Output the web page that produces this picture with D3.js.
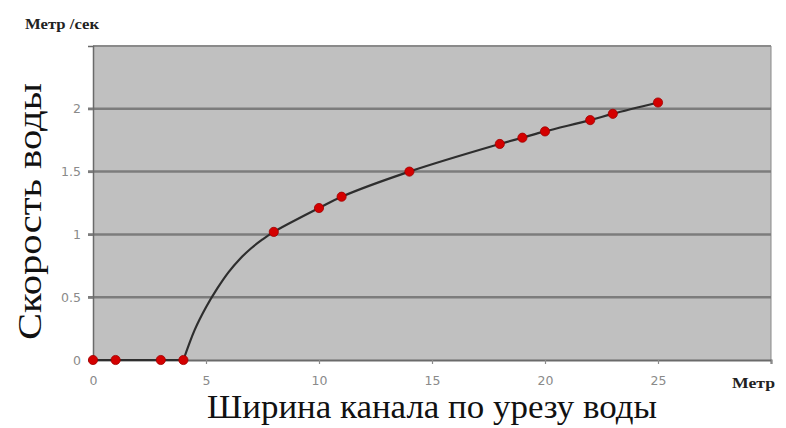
<!DOCTYPE html>
<html><head><meta charset="utf-8">
<script src="https://cdn.jsdelivr.net/npm/d3@7"></script>
<style>body{margin:0;background:#fff}svg{display:block}</style>
</head><body>
<svg id="c" width="786" height="428"></svg>
<script>
// Marker data
const widths = [0, 1, 3, 4, 8, 10, 11, 14, 18, 19, 20, 22, 23, 25];
const speeds = [0, 0, 0, 0, 1.02, 1.21, 1.30, 1.50, 1.72, 1.77, 1.82, 1.91, 1.96, 2.05];
// Smoothed line: flat part and rising part
const flatX = [0, 1, 3, 4];
const flatY = [0, 0, 0, 0];
const riseX = [4, 4.5, 5, 5.5, 6, 6.5, 7, 7.5, 8, 10, 11, 14, 18, 19, 20, 22, 23, 25];
const riseY = [0, 0.24, 0.42, 0.57, 0.70, 0.805, 0.89, 0.96, 1.02, 1.21, 1.30, 1.50, 1.72, 1.77, 1.82, 1.91, 1.96, 2.05];
const xTicks = [0, 5, 10, 15, 20, 25];
const xTickMarks = [0, 5, 10, 15, 20, 25, 30];
const yTicks = [0, 0.5, 1, 1.5, 2];
const yTickLabels = ["0", "0.5", "1", "1.5", "2"];
const xTitle = "Ширина канала по урезу воды";
const yTitle = "Скорость воды";
const yUnit = "Метр /сек";
const xUnit = "Метр";

const svg = d3.select("#c");
const L = 93, R = 771, T = 46, B = 360;
const x = d3.scaleLinear().domain([0, 30]).range([L, R]);
const y = d3.scaleLinear().domain([0, 2.5]).range([B, T]);

// plot background
svg.append("rect").attr("x", L).attr("y", T).attr("width", R - L).attr("height", B - T)
  .attr("fill", "#c0c0c0");
svg.append("line").attr("x1", L).attr("x2", R).attr("y1", T).attr("y2", T)
  .attr("stroke", "#8a8a8a").attr("stroke-width", 2);
svg.append("line").attr("x1", R).attr("x2", R).attr("y1", T).attr("y2", B)
  .attr("stroke", "#8a8a8a").attr("stroke-width", 1);

// gridlines
svg.append("g").selectAll("line").data(yTicks.filter(d => d > 0)).join("line")
  .attr("x1", L - 5).attr("x2", R).attr("y1", d => y(d)).attr("y2", d => y(d))
  .attr("stroke", "#7c7c7c").attr("stroke-width", 2.5);

// y axis
const yAxis = d3.axisLeft(y).tickValues(yTicks).tickSize(5).tickPadding(7)
  .tickFormat((d, i) => yTickLabels[i]);
const gy = svg.append("g").attr("transform", `translate(${L},0)`).call(yAxis);
gy.select(".domain").attr("stroke", "#6a6a6a").attr("stroke-width", 1.5);
gy.selectAll(".tick line").attr("stroke", "#7c7c7c").attr("stroke-width", 2);
gy.selectAll("text").attr("fill", "#8a8a8a").attr("font-family", "DejaVu Sans, Verdana, sans-serif")
  .attr("font-size", 12.5);

// x axis
const xAxis = d3.axisBottom(x).tickValues(xTickMarks).tickSize(4).tickPadding(12)
  .tickFormat(d => xTicks.includes(d) ? d : "");
const gx = svg.append("g").attr("transform", `translate(0,${B})`).call(xAxis);
gx.select(".domain").attr("stroke", "#6a6a6a").attr("stroke-width", 2);
gx.selectAll(".tick line").attr("stroke", "#8a8a8a").attr("stroke-width", 1.2);
gx.selectAll("text").attr("fill", "#8a8a8a").attr("font-family", "DejaVu Sans, Verdana, sans-serif")
  .attr("font-size", 12.5);

// line
const mk = (xs, ys, c) => d3.line().x((d, i) => x(xs[i])).y((d, i) => y(ys[i])).curve(c)(xs);
svg.append("path").attr("d", mk(flatX, flatY, d3.curveLinear)).attr("fill", "none")
  .attr("stroke", "#2e2e2e").attr("stroke-width", 2.2);
svg.append("path").attr("d", mk(riseX, riseY, d3.curveCatmullRom.alpha(0.5))).attr("fill", "none")
  .attr("stroke", "#2e2e2e").attr("stroke-width", 2.2).attr("stroke-linejoin", "round");

// markers
svg.append("g").selectAll("circle").data(widths).join("circle")
  .attr("cx", d => x(d)).attr("cy", (d, i) => y(speeds[i])).attr("r", 4.6)
  .attr("fill", "#d40000").attr("stroke", "#a00000").attr("stroke-width", 0.8);

// titles
svg.append("text").attr("x", 207).attr("y", 418)
  .attr("font-family", "Liberation Serif, Times New Roman, serif").attr("font-size", 33)
  .attr("textLength", 450).attr("lengthAdjust", "spacingAndGlyphs")
  .attr("fill", "#111").text(xTitle);
svg.append("text").attr("transform", "translate(41,340) rotate(-90)")
  .attr("font-family", "Liberation Serif, Times New Roman, serif").attr("font-size", 33)
  .attr("textLength", 257).attr("lengthAdjust", "spacingAndGlyphs")
  .attr("fill", "#111").text(yTitle);
svg.append("text").attr("x", 25).attr("y", 29)
  .attr("font-family", "Liberation Serif, Times New Roman, serif").attr("font-size", 14)
  .attr("textLength", 74).attr("lengthAdjust", "spacingAndGlyphs")
  .attr("font-weight", "bold").attr("fill", "#222").text(yUnit);
svg.append("text").attr("x", 732).attr("y", 388)
  .attr("font-family", "Liberation Serif, Times New Roman, serif").attr("font-size", 14)
  .attr("textLength", 43).attr("lengthAdjust", "spacingAndGlyphs")
  .attr("font-weight", "bold").attr("fill", "#222").text(xUnit);
</script>
</body></html>
